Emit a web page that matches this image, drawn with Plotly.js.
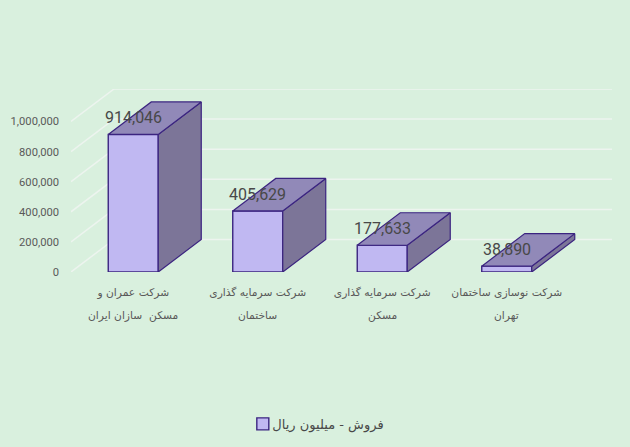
<!DOCTYPE html>
<html>
<head>
<meta charset="utf-8">
<script src="https://cdn.plot.ly/plotly-3.0.1.min.js"></script>
<style>
html,body{margin:0;padding:0;background:#D9F0DE;}
#chart{width:630px;height:447px;outline:1px solid #D2D8D3;outline-offset:-1px;}
</style>
</head>
<body>
<div id="chart"></div>
<script>
const categoryLine1 = ["شرکت عمران و", "شرکت سرمایه گذاری", "شرکت سرمایه گذاری", "شرکت نوسازی ساختمان"];
const categoryLine2 = ["مسکن  سازان ایران", "ساختمان", "مسکن", "تهران"];
const sales = [914046, 405629, 177633, 38890];
const seriesName = "فروش - میلیون ریال";
const yTicks = [0, 200000, 400000, 600000, 800000, 1000000];
const xPositions = [0, 1, 2, 3];

// oblique projection used for the pseudo-3D look, in axis units
const depthX = 0.3454, depthY = 216000, barW = 0.4016;
const xMin = -0.5, xMax = 3.5 + depthX, yMax = 1216000;

const colors = {bg:"#D9F0DE", grid:"#EDF4EF", front:"#C0B8F2", side:"#7C7598", top:"#9189B8", edge:"#3B2480"};

const gridShapes = [];
yTicks.forEach(v => {
  const line = {type:"line", layer:"below", xref:"x", yref:"y", line:{color:colors.grid, width:1.5}};
  gridShapes.push(Object.assign({}, line, {x0:xMin, y0:v, x1:xMin+depthX, y1:v+depthY}));
  gridShapes.push(Object.assign({}, line, {x0:xMin+depthX, y0:v+depthY, x1:xMax, y1:v+depthY}));
});

const traces = [{
  type:"bar", x:xPositions, y:sales, width:barW, name:seriesName, cliponaxis:false,
  marker:{color:colors.front, line:{color:colors.edge, width:1.4}}, hoverinfo:"skip"
}];
function face(xs, ys, fill){
  return {type:"scatter", mode:"lines", x:xs, y:ys, fill:"toself", fillcolor:fill, cliponaxis:false,
    line:{color:colors.edge, width:1.2}, showlegend:false, hoverinfo:"skip"};
}
sales.forEach((v,i) => {
  const l = xPositions[i]-barW/2, r = xPositions[i]+barW/2;
  traces.push(face([r, r+depthX, r+depthX, r, r], [0, depthY, v+depthY, v, 0], colors.side));
  traces.push(face([l, r, r+depthX, l+depthX, l], [v, v, v+depthY, v+depthY, v], colors.top));
});

const annotations = sales.map((v,i) => ({
  xref:"x", yref:"y", x:xPositions[i], y:v, yshift:16.5, showarrow:false, yanchor:"middle", xanchor:"center",
  text:v.toLocaleString("en-US"), font:{family:"Roboto, sans-serif", size:16, color:"#484848"}
})).concat(categoryLine2.map((t,i) => ({
  xref:"x", yref:"y", x:xPositions[i], y:0, yshift:-43, showarrow:false, yanchor:"middle", xanchor:"center",
  text:t, font:{family:"DejaVu Sans, sans-serif", size:10.7, color:"#595959"}
})));

const layout = {
  width:630, height:447,
  paper_bgcolor:colors.bg, plot_bgcolor:colors.bg,
  margin:{l:71, r:18, t:89, b:175, pad:0, autoexpand:false},
  showlegend:true,
  legend:{orientation:"h", x:0.3176, xanchor:"left", y:-0.83, yanchor:"middle", bgcolor:"rgba(0,0,0,0)",
    font:{family:"DejaVu Sans, sans-serif", size:13, color:"#484848"}},
  xaxis:{type:"linear", range:[xMin, xMax], tickmode:"array", tickvals:xPositions, ticktext:categoryLine1,
    showgrid:false, zeroline:false, showline:false, ticks:"", ticklabelstandoff:12, tickangle:0,
    tickfont:{family:"DejaVu Sans, sans-serif", size:10.7, color:"#595959"}},
  yaxis:{range:[0, yMax], tickmode:"array", tickvals:yTicks, tickformat:",d",
    showgrid:false, zeroline:false, showline:false, ticks:"", ticklabelstandoff:11, ticklabelshift:-1.5,
    tickfont:{family:"Roboto, sans-serif", size:11.2, color:"#595959"}},
  shapes:gridShapes, annotations:annotations
};
Plotly.newPlot("chart", traces, layout, {displayModeBar:false, staticPlot:true}).then(() => {
  // the reference keeps the legend text closer to its swatch than Plotly's fixed item width
  document.querySelectorAll(".legendtext").forEach(t => t.setAttribute("x", parseFloat(t.getAttribute("x")) - 10.5));
});
</script>
</body>
</html>
